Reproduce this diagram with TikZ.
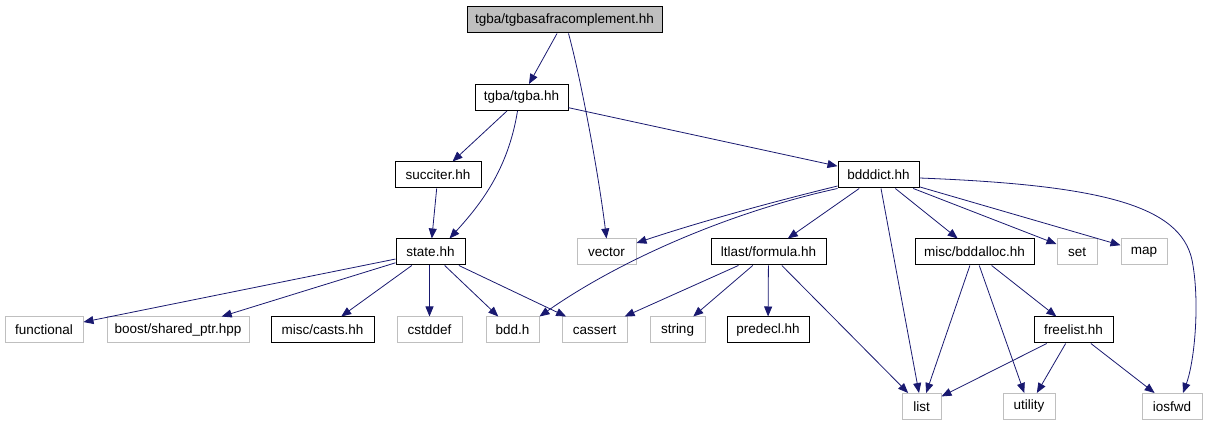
\documentclass[tikz,border=0pt]{standalone}
\usepackage{fontspec}
\setmainfont{Liberation Sans}
\usetikzlibrary{arrows.meta}
\definecolor{edgeblue}{HTML}{191970}
\definecolor{boxgray}{HTML}{BFBFBF}

\begin{document}
\begin{tikzpicture}[x=1pt,y=-1pt,
  every node/.style={font=\fontsize{13.5}{16}\selectfont, minimum height=26, inner sep=0pt},
  file/.style={draw=black, line width=1pt},
  sysfile/.style={draw=boxgray, line width=1pt},
  dep/.style={draw=edgeblue, line width=0.8pt, -{Triangle[length=10,width=8]}}]
\useasboundingbox (0,0) rectangle (1207,427);
\node[file, fill=boxgray, minimum width=195] (top) at (564.5,20) {tgba/tgbasafracomplement.hh};
\node[file, minimum width=93] (tgba) at (521.5,97.5) {tgba/tgba.hh};
\node[file, minimum width=86] (succiter) at (438,175) {succiter.hh};
\node[file, minimum width=81] (bdddict) at (878.5,175) {bdddict.hh};
\node[file, minimum width=69] (state) at (430.5,252) {state.hh};
\node[sysfile, minimum width=59] (vector) at (606.5,252) {vector};
\node[file, minimum width=115] (formula) at (768.5,252) {ltlast/formula.hh};
\node[file, minimum width=119] (bddalloc) at (974.5,252) {misc/bddalloc.hh};
\node[sysfile, minimum width=40] (set) at (1077,252) {set};
\node[sysfile, minimum width=46] (map) at (1144,252) {map};
\node[sysfile, minimum width=78] (functional) at (44,330) {functional};
\node[sysfile, minimum width=142] (sharedptr) at (178,330) {boost/shared\_ptr.hpp};
\node[file, minimum width=103] (casts) at (322.5,330) {misc/casts.hh};
\node[sysfile, minimum width=65] (cstddef) at (429.5,330) {cstddef};
\node[sysfile, minimum width=53] (bddh) at (512.5,330) {bdd.h};
\node[sysfile, minimum width=65] (cassert) at (594.5,330) {cassert};
\node[sysfile, minimum width=55] (string) at (677.5,330) {string};
\node[file, minimum width=82] (predecl) at (768,330) {predecl.hh};
\node[file, minimum width=79] (freelist) at (1073.5,330) {freelist.hh};
\node[sysfile, minimum width=39] (list) at (921.5,406.5) {list};
\node[sysfile, minimum width=52] (utility) at (1029,406.5) {utility};
\node[sysfile, minimum width=60] (iosfwd) at (1172,406.5) {iosfwd};

\draw[dep] (top) -- (tgba);
\draw[dep] ([xshift=4]top.south) .. controls (580,75) and (598,170) .. (vector.north);
\draw[dep] (tgba) -- (succiter);
\draw[dep] ([xshift=-4]tgba.south) .. controls (508,170) and (480,205) .. ([xshift=19]state.north);
\draw[dep] (tgba) -- (bdddict);
\draw[dep] (succiter) -- (state);
\draw[dep] (state) -- (functional);
\draw[dep] (state) -- (sharedptr);
\draw[dep] (state) -- (casts);
\draw[dep] (state.south -| cstddef) -- (cstddef);
\draw[dep] (state) -- (bddh);
\draw[dep] (state) -- (cassert);
\draw[dep] ([yshift=-11]bdddict.west) .. controls (760,205) and (690,225) .. ([yshift=9]vector.east);
\draw[dep] (bdddict.south west) .. controls (730,212) and (620,260) .. (bddh.north east);
\draw[dep] (bdddict) -- (formula);
\draw[dep] (bdddict) -- (list);
\draw[dep] (bdddict) -- (bddalloc);
\draw[dep] (bdddict) -- (set);
\draw[dep] (bdddict) -- (map);
\draw[dep] ([yshift=-3]bdddict.east) .. controls (1100,185) and (1180,205) .. (1192,260)
  .. controls (1200,300) and (1195,360) .. ([xshift=11]iosfwd.north);
\draw[dep] (formula) -- (cassert);
\draw[dep] (formula) -- (string);
\draw[dep] (formula) -- (predecl);
\draw[dep] (formula) -- (list);
\draw[dep] (bddalloc) -- (list);
\draw[dep] (bddalloc) -- (utility);
\draw[dep] (bddalloc) -- (freelist);
\draw[dep] (freelist) -- (list);
\draw[dep] (freelist) -- (utility);
\draw[dep] (freelist) -- (iosfwd);
\end{tikzpicture}
\end{document}
